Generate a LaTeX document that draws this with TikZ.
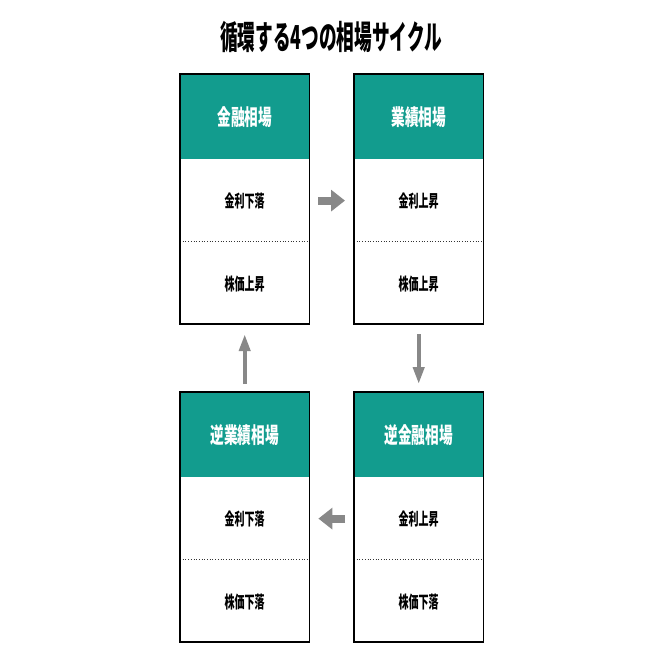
\documentclass[tikz,border=0pt]{standalone}
\usepackage{fontspec}
\usetikzlibrary{arrows.meta}
\newfontfamily\cjk[FakeStretch=0.62]{Noto Sans CJK JP}
\newfontfamily\cjkt[FakeStretch=0.535]{Noto Sans CJK JP}
\newfontfamily\cjkc[FakeStretch=0.59]{Noto Sans CJK JP}
\definecolor{teal1}{HTML}{129C8E}
\definecolor{arrowgray}{HTML}{888888}
\tikzset{
  hdr/.style={fill=teal1, minimum width=129pt, minimum height=85pt, inner sep=0pt,
    text=white, font=\cjk\bfseries\fontsize{22}{22}\selectfont},
  cell/.style={minimum width=129pt, minimum height=82pt, inner sep=0pt,
    text=black, font=\cjkc\bfseries\fontsize{17}{17}\selectfont},
  frame/.style={draw=black, line width=1.2pt},
  sep/.style={draw=black!80, line width=0.7pt, dotted},
  harrow/.style={draw=arrowgray, line width=8pt, -{Triangle[length=14pt,width=21pt]}},
  varrow/.style={draw=arrowgray, line width=4pt, -{Triangle[length=17pt,width=11pt]}},
}
\begin{document}
\begin{tikzpicture}[x=1pt,y=-1pt]
\useasboundingbox (0,0) rectangle (662,662);
\fill[white] (0,0) rectangle (662,662);
\node[font=\cjkt\bfseries\fontsize{33}{33}\selectfont] (title) at (331,37) {循環する4つの相場サイクル};

% top-left
\node[hdr,anchor=north west] (h1) at (180,74) {金融相場};
\node[cell,anchor=north] (a1) at (h1.south) {金利下落};
\node[cell,anchor=north,text depth=-6pt] (b1) at (a1.south) {株価上昇};
% top-right
\node[hdr,anchor=north west] (h2) at (354,74) {業績相場};
\node[cell,anchor=north] (a2) at (h2.south) {金利上昇};
\node[cell,anchor=north,text depth=-6pt] (b2) at (a2.south) {株価上昇};
% bottom-right
\node[hdr,anchor=north west] (h3) at (354,392) {逆金融相場};
\node[cell,anchor=north] (a3) at (h3.south) {金利上昇};
\node[cell,anchor=north,text depth=-3pt] (b3) at (a3.south) {株価下落};
% bottom-left
\node[hdr,anchor=north west] (h4) at (180,392) {逆業績相場};
\node[cell,anchor=north] (a4) at (h4.south) {金利下落};
\node[cell,anchor=north,text depth=-3pt] (b4) at (a4.south) {株価下落};

\foreach \i in {1,2,3,4}{
  \draw[sep] (a\i.south west) -- (a\i.south east);
  \draw[frame] (h\i.north west) rectangle (b\i.south east);
  \draw[black, line width=2pt] (b\i.south west) -- (b\i.south east);
}

\draw[harrow] ([xshift=9pt]a1.east) -- ([xshift=-9pt]a2.west);
\draw[varrow] ([yshift=-10pt]b2.south) -- ([yshift=8pt]h3.north);
\draw[harrow] ([xshift=-9pt]a3.west) -- ([xshift=9pt]a4.east);
\draw[varrow] ([yshift=8pt]h4.north) -- ([yshift=-10pt]b1.south);
\end{tikzpicture}
\end{document}
